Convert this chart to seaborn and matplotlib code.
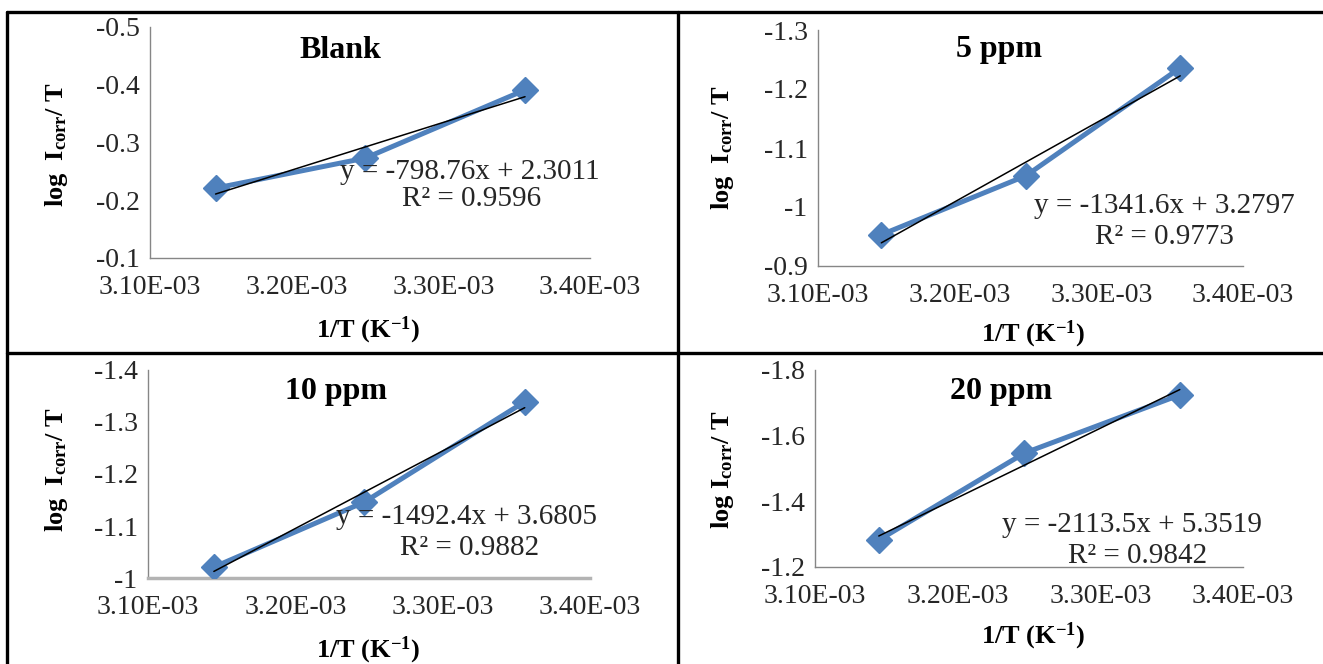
import matplotlib
matplotlib.use("Agg")
import matplotlib.pyplot as plt
from matplotlib.lines import Line2D
from matplotlib.ticker import FuncFormatter, MultipleLocator
import seaborn as sns

# Inverse temperature (1/318 K, 1/308 K, 1/298 K)
inv_T = [3.1447e-3, 3.2468e-3, 3.3557e-3]

# log Icorr / T for each inhibitor concentration
panel_names = ["Blank", "5 ppm", "10 ppm", "20 ppm"]
blank_vals = [-0.221, -0.273, -0.391]
ppm5_vals = [-0.953, -1.053, -1.236]
ppm10_vals = [-1.021, -1.146, -1.339]
ppm20_vals = [-1.282, -1.547, -1.724]

# Linear fits reported for each series: slope, intercept, R^2
fit_slopes = [-798.76, -1341.6, -1492.4, -2113.5]
fit_intercepts = [2.3011, 3.2797, 3.6805, 5.3519]
fit_r2 = [0.9596, 0.9773, 0.9882, 0.9842]

# y-axis ranges (axis drawn inverted: less negative at the bottom)
y_bottoms = [-0.1, -0.9, -1.0, -1.2]
y_tops = [-0.5, -1.3, -1.4, -1.8]
y_steps = [0.1, 0.1, 0.1, 0.2]
x_ticks = [3.10e-3, 3.20e-3, 3.30e-3, 3.40e-3]

series = [blank_vals, ppm5_vals, ppm10_vals, ppm20_vals]

sns.set_style("white")
plt.rcParams["font.family"] = ["Liberation Serif", "DejaVu Serif"]
plt.rcParams["axes.unicode_minus"] = False
plt.rcParams["mathtext.fontset"] = "custom"
plt.rcParams["mathtext.rm"] = "Liberation Serif:bold"
plt.rcParams["mathtext.it"] = "Liberation Serif:bold"
plt.rcParams["mathtext.bf"] = "Liberation Serif:bold"
plt.rcParams["mathtext.default"] = "rm"

W, H = 1323, 664
fig = plt.figure(figsize=(W / 100, H / 100), dpi=100)
fig.patch.set_facecolor("white")


def px(x, y):
    return x / W, 1 - y / H


# axes boxes in pixels: left, top, right, bottom
boxes = [(150, 27, 590, 258), (818, 30, 1243, 266),
         (148, 370, 590, 578), (815, 370, 1243, 567)]
title_pos = [(340, 50), (999, 50), (336, 391), (1001, 392)]
eq_pos = [(470, 172), (1164, 206), (467, 517), (1132, 525)]
r2_pos = [(472, 199), (1164, 237), (470, 548), (1138, 556)]
ylab_pos = [(57, 145), (722, 148), (57, 470), (722, 470)]
xlab_pos = [(368, 330), (1033, 334), (368, 650), (1033, 636)]
ylab_text = [r"log  I$_{\rm corr}$/ T", r"log  I$_{\rm corr}$/ T",
             r"log  I$_{\rm corr}$/ T", r"log I$_{\rm corr}$/ T"]

axis_grey = "#868686"
text_grey = "#262626"
blue = "#4F81BD"

for i in range(4):
    l, t, r, b = boxes[i]
    ax = fig.add_axes([l / W, 1 - b / H, (r - l) / W, (b - t) / H])
    ax.set_facecolor("none")

    sns.lineplot(x=inv_T, y=series[i], ax=ax, color=blue, linewidth=3.6,
                 marker="D", markersize=13, markeredgecolor=blue,
                 markeredgewidth=1, zorder=3)

    xs = [inv_T[0], inv_T[-1]]
    ys = [fit_slopes[i] * x + fit_intercepts[i] for x in xs]
    ax.plot(xs, ys, color="black", linewidth=1.1, zorder=4)

    ax.set_xlim(x_ticks[0], x_ticks[-1])
    ax.set_ylim(y_bottoms[i], y_tops[i])
    ax.set_xticks(x_ticks)
    ax.yaxis.set_major_locator(MultipleLocator(y_steps[i]))
    ax.xaxis.set_major_formatter(FuncFormatter(lambda v, p: f"{v:.2E}"))
    ax.yaxis.set_major_formatter(FuncFormatter(lambda v, p: f"{round(v, 2):g}"))

    for side in ["top", "right"]:
        ax.spines[side].set_visible(False)
    for side in ["left", "bottom"]:
        ax.spines[side].set_color(axis_grey)
        ax.spines[side].set_linewidth(1.0)
    if i == 2:
        ax.spines["bottom"].set_color("#b3b3b3")
        ax.spines["bottom"].set_linewidth(2.5)

    ax.tick_params(axis="both", direction="inout", length=7, width=1.0,
                   color=axis_grey, labelsize=20, labelcolor=text_grey)
    ax.tick_params(axis="x", pad=9)
    ax.tick_params(axis="y", pad=4)
    ax.set_xlabel("")
    ax.set_ylabel("")

    fig.text(*px(*title_pos[i]), panel_names[i], ha="center", va="center",
             fontsize=23, fontweight="bold", color="black")
    fig.text(*px(*eq_pos[i]),
             f"y = {fit_slopes[i]:g}x + {fit_intercepts[i]:.4f}",
             ha="center", va="center", fontsize=21, color=text_grey)
    fig.text(*px(*r2_pos[i]), f"R² = {fit_r2[i]:.4f}",
             ha="center", va="center", fontsize=21, color=text_grey)
    fig.text(*px(*ylab_pos[i]), ylab_text[i], rotation=90,
             ha="center", va="center", fontsize=19, fontweight="bold",
             color="black")
    fig.text(*px(*xlab_pos[i]), r"1/T (K$^{-1}$)",
             ha="center", va="center", fontsize=19, fontweight="bold",
             color="black")

# table frame around the four panels
frame_lw = 2.4
fig.add_artist(Line2D([7 / W, 7 / W], [0, 1 - 12 / H], transform=fig.transFigure,
                      color="black", linewidth=frame_lw))
fig.add_artist(Line2D([678 / W, 678 / W], [0, 1 - 12 / H], transform=fig.transFigure,
                      color="black", linewidth=frame_lw))
fig.add_artist(Line2D([7 / W, 1], [1 - 12 / H, 1 - 12 / H], transform=fig.transFigure,
                      color="black", linewidth=frame_lw))
fig.add_artist(Line2D([7 / W, 1], [1 - 353 / H, 1 - 353 / H], transform=fig.transFigure,
                      color="black", linewidth=frame_lw))

fig.savefig("out.png", dpi=100, facecolor="white")
